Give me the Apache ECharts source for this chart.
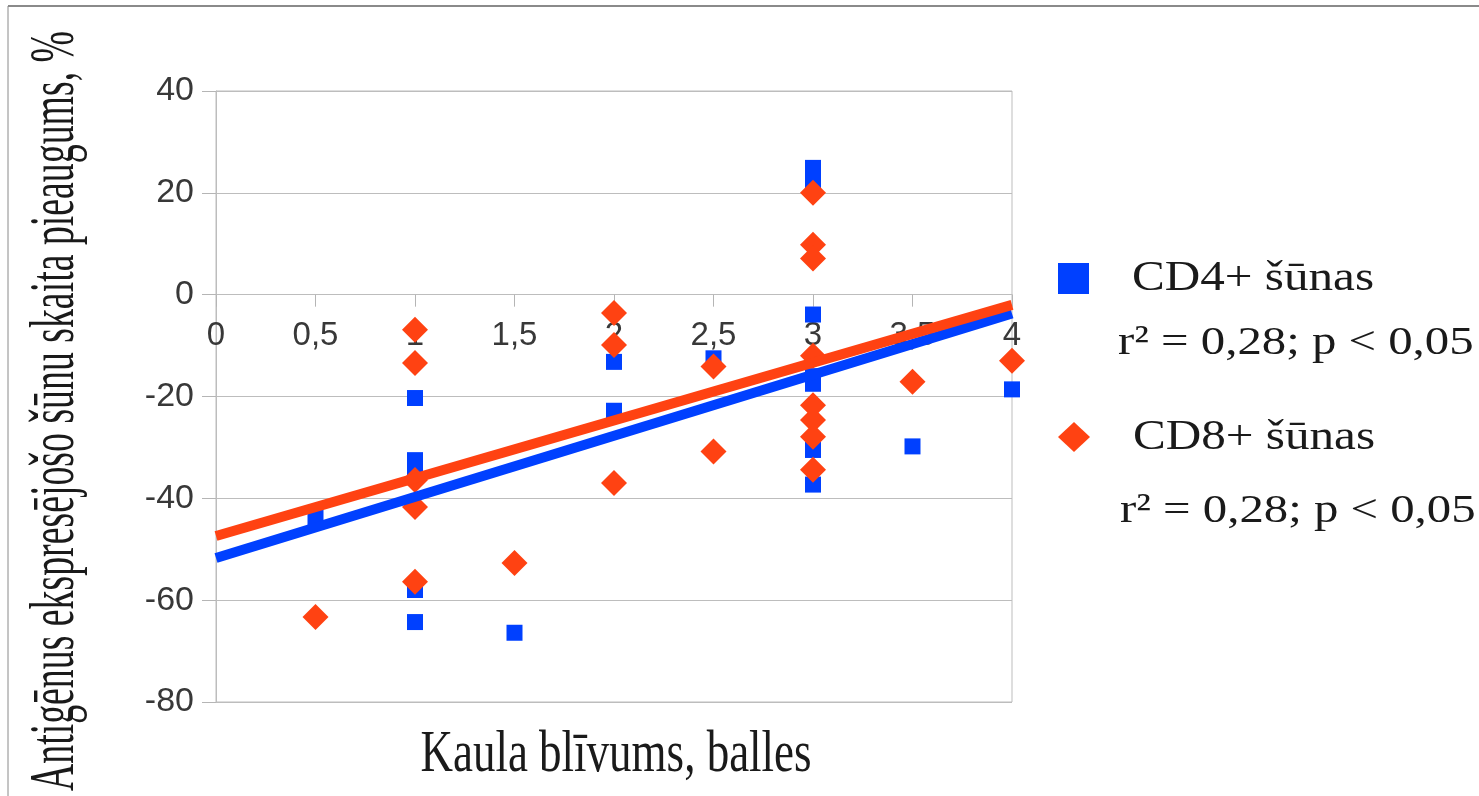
<!DOCTYPE html>
<html>
<head>
<meta charset="utf-8">
<script src="https://cdn.jsdelivr.net/npm/echarts@6/dist/echarts.min.js"></script>
<style>
html,body{margin:0;padding:0;background:#fff;}
#chart{width:1479px;height:796px;}
</style>
</head>
<body>
<div id="chart"></div>
<script>
// CD4+ cells: [bone density score, increase %]
const cd4X = [0.5, 1, 1, 1, 1, 1, 1.5, 2, 2, 2.5, 3, 3, 3, 3, 3, 3, 3, 3.5, 4];
const cd4Y = [-43.7, -20.3, -32.5, -34, -58, -64.3, -66.4, -13.2, -22.8, -12.5, 24.9, 22.5, -3.9, -16, -17.5, -30.5, -37.3, -29.8, -18.6];
// CD8+ cells
const cd8X = [0.5, 1, 1, 1, 1, 1, 1.5, 2, 2, 2, 2.5, 2.5, 3, 3, 3, 3, 3, 3, 3, 3, 3.5, 4];
const cd8Y = [-63.3, -6.9, -13.4, -36.4, -41.7, -56.4, -52.7, -3.6, -9.9, -37.0, -14.1, -30.8, 20.0, 9.8, 7.1, -12, -21.7, -24.6, -27.9, -34.4, -17.1, -13.0];
// Trend lines (end points at x = 0 and x = 4)
const trendX = [0, 4];
const cd4Trend = [-51.7, -3.7];
const cd8Trend = [-47.4, -2.0];
// Axis ranges
const xRange = [0, 4, 0.5];
const yRange = [-80, 40, 20];
// Texts
const xTitle = 'Kaula blīvums, balles';
const yTitle = 'Antigēnus ekspresējošo šūnu skaita pieaugums, %';
const legendNames = ['CD4+ šūnas', 'CD8+ šūnas'];
const legendStats = ['r² = 0,28; p < 0,05', 'r² = 0,28; p < 0,05'];

const BLUE = '#0040ff';
const RED = '#ff4212';
const zip = (xs, ys) => xs.map((x, i) => [x, ys[i]]);
const comma = v => String(v).replace('.', ',');
const SERIF = '"Liberation Serif", "Times New Roman", serif';
const SANS = '"Liberation Sans", Arial, sans-serif';

const GRID = {left: 216, right: 467, top: 91, bottom: 94};
const gridH = 796 - GRID.top - GRID.bottom;

const chart = echarts.init(document.getElementById('chart'), null, {renderer: 'canvas'});

function build(useOffset) {
  // x axis sits on y = 0; shift it there through the y scale
  const zeroOffset = useOffset ? -((0 - yRange[0]) / (yRange[1] - yRange[0])) * gridH : 0;
  return {
    backgroundColor: '#ffffff',
    animation: false,
    grid: Object.assign({show: true, borderColor: '#bdbdbd', borderWidth: 1}, GRID),
    xAxis: {
      type: 'value', min: xRange[0], max: xRange[1], interval: xRange[2],
      position: 'bottom', offset: zeroOffset,
      axisLine: {onZero: !useOffset, onZeroAxisIndex: 0, lineStyle: {color: '#bdbdbd', width: 1}},
      axisTick: {show: true, length: 12, lineStyle: {color: '#b5b5b5'}},
      splitLine: {show: false},
      axisLabel: {formatter: comma, fontFamily: SANS, fontSize: 33, color: '#383838', margin: 25, showMinLabel: true, showMaxLabel: true}
    },
    yAxis: {
      type: 'value', min: yRange[0], max: yRange[1], interval: yRange[2],
      axisLine: {show: true, onZero: false, lineStyle: {color: '#bdbdbd', width: 1}},
      axisTick: {show: true, length: 14, lineStyle: {color: '#b5b5b5'}},
      splitLine: {show: true, lineStyle: {color: '#bdbdbd', width: 1}},
      axisLabel: {formatter: comma, fontFamily: SANS, fontSize: 34, color: '#383838', margin: 22}
    },
    series: [
      {name: legendNames[0], type: 'scatter', data: zip(cd4X, cd4Y), symbol: 'rect', symbolSize: 16, itemStyle: {color: BLUE, opacity: 1}, z: 2},
      {name: legendNames[1], type: 'scatter', data: zip(cd8X, cd8Y), symbol: 'diamond', symbolSize: 26, itemStyle: {color: RED, opacity: 1}, z: 2},
      {type: 'line', data: zip(trendX, cd4Trend), showSymbol: false, symbol: 'none', lineStyle: {color: BLUE, width: 10}, silent: true, z: 3},
      {type: 'line', data: zip(trendX, cd8Trend), showSymbol: false, symbol: 'none', lineStyle: {color: RED, width: 10}, silent: true, z: 4}
    ],
    graphic: [
      {type: 'line', shape: {x1: 8, y1: 6, x2: 1479, y2: 6}, style: {stroke: '#8a8a8a', lineWidth: 2}},
      {type: 'line', shape: {x1: 8, y1: 6, x2: 8, y2: 796}, style: {stroke: '#8a8a8a', lineWidth: 1}},
      {type: 'text', x: 56, y: 411, rotation: Math.PI / 2, scaleX: 0.6, scaleY: 1,
       style: {text: yTitle, font: '63px ' + SERIF, fill: '#1a1a1a', textAlign: 'center', textVerticalAlign: 'middle', align: 'center', verticalAlign: 'middle'}},
      {type: 'text', x: 616, y: 755, scaleX: 0.75, scaleY: 1,
       style: {text: xTitle, font: '60px ' + SERIF, fill: '#1a1a1a', textAlign: 'center', textVerticalAlign: 'middle', align: 'center', verticalAlign: 'middle'}},
      {type: 'rect', shape: {x: 1058, y: 263, width: 31, height: 31}, style: {fill: BLUE}},
      {type: 'polygon', shape: {points: [[1074, 422], [1090, 437], [1074, 452], [1058, 437]]}, style: {fill: RED}},
      {type: 'text', x: 1132, y: 279, scaleX: 1.17, style: {text: legendNames[0], font: '42px ' + SERIF, fill: '#1a1a1a', textAlign: 'left', textVerticalAlign: 'middle', align: 'left', verticalAlign: 'middle'}},
      {type: 'text', x: 1118, y: 343, scaleX: 1.19, style: {text: legendStats[0], font: '41px ' + SERIF, fill: '#1a1a1a', textAlign: 'left', textVerticalAlign: 'middle', align: 'left', verticalAlign: 'middle'}},
      {type: 'text', x: 1133, y: 438, scaleX: 1.17, style: {text: legendNames[1], font: '42px ' + SERIF, fill: '#1a1a1a', textAlign: 'left', textVerticalAlign: 'middle', align: 'left', verticalAlign: 'middle'}},
      {type: 'text', x: 1120, y: 511, scaleX: 1.19, style: {text: legendStats[1], font: '41px ' + SERIF, fill: '#1a1a1a', textAlign: 'left', textVerticalAlign: 'middle', align: 'left', verticalAlign: 'middle'}}
    ]
  };
}

chart.setOption(build(true));
</script>
</body>
</html>
